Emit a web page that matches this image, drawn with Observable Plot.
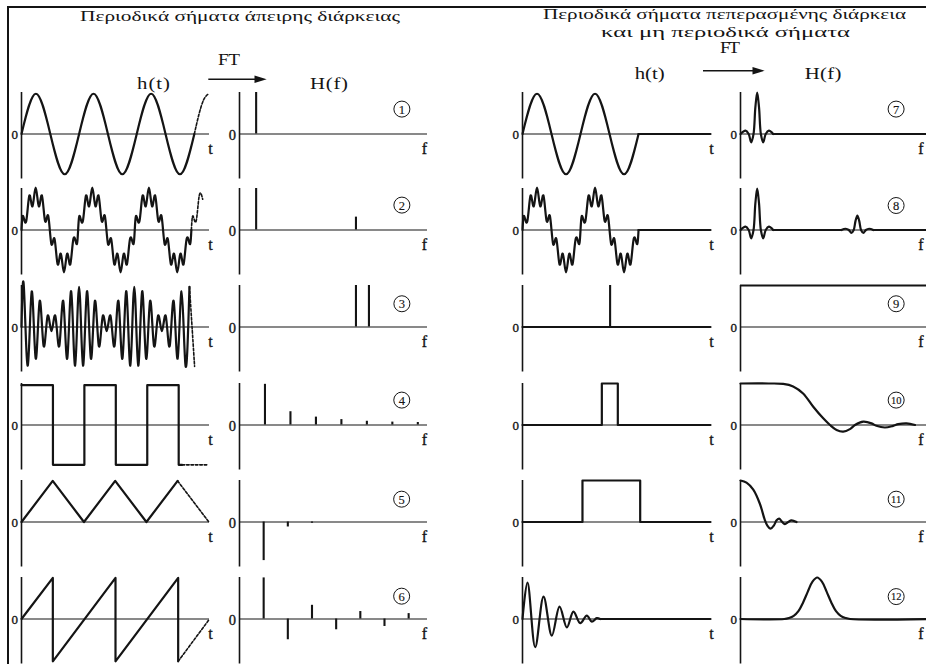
<!DOCTYPE html>
<html><head><meta charset="utf-8">
<script src="https://cdn.jsdelivr.net/npm/d3@7"></script>
<script src="https://cdn.jsdelivr.net/npm/@observablehq/plot@0.6"></script>
<style>
html,body{margin:0;padding:0;background:#fff;}
#fig{position:relative;width:926px;height:664px;overflow:hidden;background:#fff;}
#border{position:absolute;left:7px;top:6px;width:940px;height:680px;border-top:2px solid #141414;border-left:2.6px solid #141414;}
#hdr{position:absolute;left:0;top:0;}
</style></head>
<body><div id="fig"><div id="border"></div>
<svg id="hdr" width="926" height="95" font-family="'Liberation Serif', 'Times New Roman', serif" fill="#141414">
<text x="240" y="20.5" text-anchor="middle" font-size="15.5" textLength="320" lengthAdjust="spacingAndGlyphs">Περιοδικά σήματα άπειρης διάρκειας</text>
<text x="724.5" y="19" text-anchor="middle" font-size="15.5" textLength="363" lengthAdjust="spacingAndGlyphs">Περιοδικά σήματα πεπερασμένης διάρκεια</text>
<text x="725.5" y="36.5" text-anchor="middle" font-size="15.5" textLength="249" lengthAdjust="spacingAndGlyphs">και μη περιοδικά σήματα</text>
<text transform="translate(229 65) scale(1.2 1)" text-anchor="middle" font-size="16" textLength="18.3" lengthAdjust="spacing">FT</text>
<text transform="translate(153.5 88.5) scale(1.3 1)" text-anchor="middle" font-size="16" textLength="25.4" lengthAdjust="spacing">h(t)</text>
<text transform="translate(329 88.5) scale(1.3 1)" text-anchor="middle" font-size="16" textLength="29.2" lengthAdjust="spacing">H(f)</text>
<text transform="translate(730 52.7) scale(1.2 1)" text-anchor="middle" font-size="16" textLength="16.7" lengthAdjust="spacing">FT</text>
<text transform="translate(649.7 79) scale(1.3 1)" text-anchor="middle" font-size="16" textLength="23.1" lengthAdjust="spacing">h(t)</text>
<text transform="translate(823 79) scale(1.3 1)" text-anchor="middle" font-size="16" textLength="28.2" lengthAdjust="spacing">H(f)</text>
<line x1="208.3" y1="79.3" x2="256" y2="79.3" stroke="#141414" stroke-width="1.6"/>
<polygon points="266.7,79.3 254.5,75.6 254.5,83"/>
<line x1="703" y1="70.7" x2="754" y2="70.7" stroke="#141414" stroke-width="1.6"/>
<polygon points="764.7,70.7 752.5,67 752.5,74.4"/>
</svg>
</div>
<script>
// ================= DATA =================
// 1 / 7 : sine, time in periods
const sineT = [0,0.25,0.5,0.75,1,1.25,1.5,1.75,2,2.25,2.5,2.75,3,3.083,3.167,3.25];
const sineV = [0,0.97,0,-0.97,0,0.97,0,-0.97,0,0.97,0,-0.97,0,0.49,0.84,0.97];
// 2 / 8 : sine with a high-frequency ripple (extrema), time in periods
const wiggleT = [0,0.028,0.083,0.139,0.194,0.25,0.306,0.361,0.417,0.472,0.528,0.583,0.639,0.694,0.75,0.806,0.861,0.917,0.972,1,
  1.028,1.083,1.139,1.194,1.25,1.306,1.361,1.417,1.472,1.528,1.583,1.639,1.694,1.75,1.806,1.861,1.917,1.972,2,
  2.028,2.083,2.139,2.194,2.25,2.306,2.361,2.417,2.472,2.528,2.583,2.639,2.694,2.75,2.806,2.861,2.917,2.972,3,
  3.028,3.083,3.139,3.2];
const wiggleV = [0,0.34,0.21,0.83,0.57,1.02,0.57,0.83,0.21,0.34,-0.34,-0.21,-0.83,-0.57,-1.02,-0.57,-0.83,-0.21,-0.34,0,
  0.34,0.21,0.83,0.57,1.02,0.57,0.83,0.21,0.34,-0.34,-0.21,-0.83,-0.57,-1.02,-0.57,-0.83,-0.21,-0.34,0,
  0.34,0.21,0.83,0.57,1.02,0.57,0.83,0.21,0.34,-0.34,-0.21,-0.83,-0.57,-1.02,-0.57,-0.83,-0.21,-0.34,0,
  0.34,0.21,0.83,0.74];
// 3 : beating of two close tones (carrier extrema), time in carrier cycles
const beatT = [0,
  0.3,0.8,1.3,1.8,2.3,2.8,3.3,3.8,4.3,4.8,5.3,5.8,6.3,6.8,
  7.3,7.8,8.3,8.8,9.3,9.8,10.3,10.8,11.3,11.8,12.3,12.8,13.3,13.8,
  14.3,14.8,15.3,15.8,16.3,16.8,17.3,17.8,18.3,18.8,19.3,19.8,20.3,20.8,
  21.3];
const beatV = [0,
  0.97,-0.93,0.86,-0.76,0.62,-0.45,0.26,-0.1,0.26,-0.45,0.62,-0.76,0.86,-0.93,
  0.97,-0.93,0.86,-0.76,0.62,-0.45,0.26,-0.1,0.26,-0.45,0.62,-0.76,0.86,-0.93,
  0.97,-0.93,0.86,-0.76,0.62,-0.45,0.26,-0.1,0.26,-0.45,0.62,-0.76,0.86,-0.93,
  0.97];
const beatDashT = [21.3, 21.95];
const beatDashV = [0.97, -0.95];
// 4 : square wave, time in half periods
const squareT = [0,1,2,3,4,5,5.11];
const squareV = [0.96,-0.96,0.96,-0.96,0.96,-0.96,-0.96];
const squareDashT = [5.11,5.91];
const squareDashV = [-0.96,-0.96];
// 5 : triangle wave
const triT = [0,1,2,3,4,5,6];
const triV = [0,0.99,0,0.99,0,0.99,0];
// 6 : sawtooth
const sawT = [0,1,1,3,3,5,5,6];
const sawV = [0,0.99,-1.02,0.99,-1.02,0.99,-1.02,0];
// spectra 1..6 (line spectra)
const spec1F = [1], spec1A = [1.0];
const spec2F = [1,7], spec2A = [1.0,0.31];
const spec3F = [7,7.78], spec3A = [1.0,1.0];
const spec4F = [1,2,3,4,5,6,7], spec4A = [0.98,0.32,0.19,0.13,0.09,0.07,0.06];
const spec5F = [1,2,3], spec5A = [-0.93,-0.12,-0.03];
const spec6F = [1,2,3,4,5,6,7], spec6A = [0.99,-0.5,0.33,-0.26,0.18,-0.18,0.13];
// 7 / 8 : spectra of truncated signals (frequency in f1 units)
const sinc7F = [0,0.3,0.49,0.64,0.78,0.89,1,1.11,1.22,1.36,1.51,1.7,1.96];
const sinc7A = [0,0.08,0,-0.2,0,0.64,1,0.64,0,-0.2,0,0.08,0];
const sinc8bF = [6.04,6.3,6.49,6.64,6.78,6.89,7,7.11,7.22,7.36,7.51,7.7,7.96];
const sinc8bA = [0,0.03,0,-0.07,0,0.22,0.35,0.22,0,-0.07,0,0.03,0];
// 9 : impulse
const impulseT = [46.6], impulseV = [1.0];
// 10 : narrow pulse and its spectrum
const pulse10T = [0,42.2,42.2,50.7,50.7,100];
const pulse10V = [0,0,1,1,0,0];
const spec10F = [0,15,22.7,28,33.3,38.7,44,47.6,51.1,54.6,58.2,60.9,65.3,69.7,72.3,76.8,81.2,83.9,88.3,92.8];
const spec10A = [1,1,0.99,0.93,0.76,0.44,0.16,0,-0.12,-0.16,-0.1,0,0.08,0.04,-0.02,-0.06,-0.02,0.02,0.04,0];
// 11 : wide pulse and its spectrum
const pulse11T = [0,31.9,31.9,62.6,62.6,100];
const pulse11V = [0,0,1,1,0,0];
const spec11F = [0,3.2,6.8,10.3,13,14.2,16,17.8,19.2,20.6,22.2,23.6,25.4,27.1,29.8];
const spec11A = [1,0.95,0.78,0.44,0.04,-0.08,-0.16,-0.08,0.04,0.08,0,-0.05,0,0.04,0];
// 12 : damped oscillation and its (gaussian-like) spectrum
const dampT = [0,2.66,6.76,11.2,15.6,19.7,23.6,27.1,30.7,34.2,36.9,39.5,41.3];
const dampV = [0,0.88,-0.68,0.54,-0.4,0.3,-0.2,0.18,-0.1,0.08,-0.065,0.02,0];
const gaussF = [0,23.3,25.8,28.3,30.8,33.3,35.8,38.3,40.8,43.3,45.8,48.3,50.8,53.3,55.8,58.3,100];
const gaussA = [0,0,0.025,0.077,0.19,0.4,0.66,0.9,1,0.9,0.66,0.4,0.19,0.077,0.025,0,0];
const circleLabels = ["1","2","3","4","5","6","7","8","9","10","11","12"];

// ================= DRAWING =================
const INK = "#141414";
const SERIF = "'Liberation Serif', 'Times New Roman', serif";
const fig = document.getElementById("fig");
const PW = 188, PH = 86.5, PZ = 41.5;
const ML = 20, MR = 14, MT = 4, MB = 4;
const colX = [20.7, 239, 522, 740.3];
const rowY = [91.7, 188, 285, 383.3, 480, 576.7];

const pts = (T, V) => T.map((t, i) => ({t, v: V[i]}));
const sig = (data, o = {}) => Plot.line(data, {x: "t", y: "v", stroke: INK, strokeWidth: 2.2, strokeLinejoin: "round", ...o});
const dash = (data, o = {}) => sig(data, {strokeWidth: 1.6, strokeDasharray: "2.6,1.8", ...o});
const spikes = (data) => Plot.ruleX(data, {x: "t", y1: 0, y2: "v", stroke: INK, strokeWidth: 2.1});
const flat = (a, b) => sig([{t: a, v: 0}, {t: b, v: 0}]);
const lab = (x, y, s, o) => Plot.text([{x, y, s}], {x: "x", y: "y", text: "s", fill: INK, stroke: INK, strokeWidth: 0.35, fontFamily: SERIF, ...o});
const circ = (x, y, s) => [
  Plot.dot([{x, y}], {x: "x", y: "y", r: 8, stroke: INK, strokeWidth: 1, fill: "none"}),
  lab(x, y, s, {fontSize: s.length > 1 ? 10.5 : 12.5, dy: 0.5, strokeWidth: 0.15})
];

function addPanel(col, row, xMax, marks) {
  const isF = col % 2 === 1;
  const svg = Plot.plot({
    width: ML + PW + MR, height: MT + PH + MB,
    marginLeft: ML, marginRight: MR, marginTop: MT, marginBottom: MB,
    x: {domain: [0, xMax], axis: null},
    y: {domain: [-(PH - PZ) / PZ, 1], axis: null},
    style: {background: "transparent", overflow: "visible"},
    marks: [
      Plot.ruleY([0], {stroke: INK, strokeWidth: 1.2}),
      Plot.ruleX([0], {stroke: INK, strokeWidth: 1.6}),
      ...marks,
      lab(0, 0, "0", {textAnchor: "end", dx: -3.5, dy: 1, fontSize: (col === 1) ? 14.5 : 13}),
      lab(xMax, 0, isF ? "f" : "t", {dy: 14.5, dx: isF ? (col === 3 ? -7.5 : -3) : 1, fontSize: 16})
    ]
  });
  svg.style.position = "absolute";
  svg.style.left = (colX[col] - ML) + "px";
  svg.style.top = (rowY[row] - MT) + "px";
  fig.appendChild(svg);
}

const sine = pts(sineT, sineV);
const wiggle = pts(wiggleT, wiggleV);

// ---- left column: periodic signals of infinite duration ----
addPanel(0, 0, 3.263, [sig(sine.filter(d => d.t <= 3), {curve: "natural"}), dash(sine.filter(d => d.t >= 3), {curve: "natural"})]);
addPanel(0, 1, 3.32, [sig(wiggle.filter(d => d.t <= 3), {curve: "natural"}), dash(wiggle.filter(d => d.t >= 3), {curve: "natural"})]);
addPanel(0, 2, 23.84, [sig(pts(beatT, beatV), {curve: "natural"}), dash(pts(beatDashT, beatDashV))]);
addPanel(0, 3, 5.98, [sig(pts(squareT, squareV), {curve: "step-after"}), dash(pts(squareDashT, squareDashV))]);
addPanel(0, 4, 6.02, [sig(pts(triT, triV).filter(d => d.t <= 5)), dash(pts(triT, triV).filter(d => d.t >= 5))]);
addPanel(0, 5, 6.0, [sig(pts(sawT, sawV).slice(0, 7)), dash(pts(sawT, sawV).slice(6))]);

addPanel(1, 0, 11.3, [spikes(pts(spec1F, spec1A)), ...circ(9.76, 0.6, circleLabels[0])]);
addPanel(1, 1, 11.3, [spikes(pts(spec2F, spec2A)), ...circ(9.76, 0.6, circleLabels[1])]);
addPanel(1, 2, 11.3, [spikes(pts(spec3F, spec3A)), ...circ(9.76, 0.56, circleLabels[2])]);
addPanel(1, 3, 7.38, [spikes(pts(spec4F, spec4A)), ...circ(6.37, 0.6, circleLabels[3])]);
addPanel(1, 4, 7.78, [spikes(pts(spec5F, spec5A)), ...circ(6.71, 0.55, circleLabels[4])]);
addPanel(1, 5, 7.78, [spikes(pts(spec6F, spec6A)), ...circ(6.71, 0.55, circleLabels[5])]);

// ---- right column: finite-duration periodic and non-periodic signals ----
addPanel(2, 0, 3.24, [sig(sine.filter(d => d.t <= 2), {curve: "natural"}), flat(2, 3.24)]);
addPanel(2, 1, 3.24, [sig(wiggle.filter(d => d.t <= 2), {curve: "natural"}), flat(2, 3.24)]);
addPanel(2, 2, 100, [flat(0, 100), spikes(pts(impulseT, impulseV))]);
addPanel(2, 3, 100, [sig(pts(pulse10T, pulse10V))]);
addPanel(2, 4, 100, [sig(pts(pulse11T, pulse11V))]);
addPanel(2, 5, 100, [sig(pts(dampT, dampV), {curve: "catmull-rom"}), flat(41.3, 100)]);

addPanel(3, 0, 11.26, [sig(pts(sinc7F, sinc7A), {curve: "catmull-rom"}), flat(1.96, 11.26), ...circ(9.32, 0.6, circleLabels[6])]);
addPanel(3, 1, 11.26, [sig(pts(sinc7F, sinc7A), {curve: "catmull-rom"}), flat(1.96, 6.04), sig(pts(sinc8bF, sinc8bA), {curve: "catmull-rom"}), flat(7.96, 11.26), ...circ(9.32, 0.59, circleLabels[7])]);
addPanel(3, 2, 100, [Plot.ruleY([1], {stroke: INK, strokeWidth: 2.2}), ...circ(82.8, 0.56, circleLabels[8])]);
addPanel(3, 3, 100, [sig(pts(spec10F, spec10A), {curve: "catmull-rom"}), ...circ(82.8, 0.6, circleLabels[9])]);
addPanel(3, 4, 100, [sig(pts(spec11F, spec11A), {curve: "catmull-rom"}), ...circ(82.8, 0.55, circleLabels[10])]);
addPanel(3, 5, 100, [sig(pts(gaussF, gaussA), {curve: "catmull-rom"}), ...circ(82.8, 0.54, circleLabels[11])]);
</script>
</body></html>
